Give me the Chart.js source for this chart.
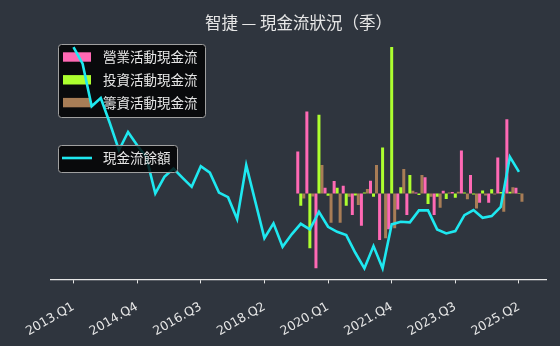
<!DOCTYPE html>
<html>
<head>
<meta charset="utf-8">
<script src="https://cdn.jsdelivr.net/npm/chart.js@4"></script>
<style>
  html, body { margin: 0; padding: 0; background: #2f353e; }
  #wrap { width: 560px; height: 346px; }
</style>
</head>
<body>
<div id="wrap"><canvas id="c" width="560" height="346"></canvas></div>
<script>
( function() { 'use strict';

	// quarters on the x axis (2013.Q1 .. 2025.Q2)
	const quarters = [
		'2013.Q1','2013.Q2','2013.Q3','2013.Q4','2014.Q1','2014.Q2','2014.Q3','2014.Q4',
		'2015.Q1','2015.Q2','2015.Q3','2015.Q4','2016.Q1','2016.Q2','2016.Q3','2016.Q4',
		'2017.Q1','2017.Q2','2017.Q3','2017.Q4','2018.Q1','2018.Q2','2018.Q3','2018.Q4',
		'2019.Q1','2019.Q2','2019.Q3','2019.Q4','2020.Q1','2020.Q2','2020.Q3','2020.Q4',
		'2021.Q1','2021.Q2','2021.Q3','2021.Q4','2022.Q1','2022.Q2','2022.Q3','2022.Q4',
		'2023.Q1','2023.Q2','2023.Q3','2023.Q4','2024.Q1','2024.Q2','2024.Q3','2024.Q4',
		'2025.Q1','2025.Q2'
	];
	const tickLabels = [ '2013.Q1','2014.Q4','2016.Q3','2018.Q2','2020.Q1','2021.Q4','2023.Q3','2025.Q2' ];

	// cash balance, one value per quarter
	const cashBalance = [
		2333, 2167, 1740, 1823, 1570, 1300, 1483, 1350, 1233, 867,
		1033, 1117, 1023, 933, 1140, 1075, 875, 830, 610, 1150,
		785, 420, 567, 333, 458, 563, 507, 683, 533, 483,
		450, 273, 117, 340, 117, 557, 583, 577, 697, 697,
		507, 467, 490, 650, 700, 623, 640, 733, 1233, 1083
	];

	// cash flow bars only exist from 2019.Q2 on
	const flowStart = '2019.Q2';
	const operatingCF = [ 418, 818, -748, 58, 125, 78, -215, -322, 128, -465, -358, -160, -215, 10, 162, -215, 28, 15, 428, 185, -92, -92, 358, 742, 58 ];
	const investingCF = [ -122, -548, 785, -22, 58, -122, -20, 10, -32, 458, 1462, 62, 185, -15, -105, -32, -55, -42, 10, -10, 30, 42, 15, 18, 5 ];
	const financingCF = [ -50, -30, 285, -292, -292, -32, -115, 45, 285, -448, -348, 245, 28, 185, -32, -142, 10, 18, -58, -150, -20, -10, -182, 62, -82 ];

	const seriesNames = [ '營業活動現金流', '投資活動現金流', '籌資活動現金流' ];
	const lineName = '現金流餘額';
	const barColors = [ '#ff69b4', '#adff2f', '#a87d56' ];
	const lineColor = '#1ee8f0';
	const bgColor = '#2f353e';
	const textColor = '#e6e6e6';
	const fontFamily = '"Noto Sans CJK TC", "Noto Sans", sans-serif';
	const tickFont = '"DejaVu Sans", sans-serif';

	const startIdx = quarters.indexOf( flowStart );
	const toPoints = ( arr, offset ) => arr.map( ( v, i ) => ( { x: i + offset, y: v } ) );

	// 5% padding like the original plot
	const padRange = ( vals ) => {
		let lo = Math.min( ...vals ), hi = Math.max( ...vals );
		let p = ( hi - lo ) * 0.05;
		return { min: lo - p, max: hi + p };
	};
	const barRange = padRange( [].concat( operatingCF, investingCF, financingCF ) );
	const lineRange = padRange( cashBalance );
	const xSpan = quarters.length - 1 + 0.5;

	function boxPath( ctx, x, y, w, h, r ) {
		ctx.beginPath();
		ctx.moveTo( x + r, y );
		ctx.arcTo( x + w, y, x + w, y + h, r );
		ctx.arcTo( x + w, y + h, x, y + h, r );
		ctx.arcTo( x, y + h, x, y, r );
		ctx.arcTo( x, y, x + w, y, r );
		ctx.closePath();
	}

	function legendBox( ctx, x, y, w, h ) {
		boxPath( ctx, x, y, w, h, 3 );
		ctx.fillStyle = 'rgba(0,0,0,0.8)';
		ctx.fill();
		ctx.strokeStyle = '#a0a0a0';
		ctx.lineWidth = 1;
		ctx.stroke();
	}

	const overlay = {
		id: 'overlay',
		beforeDraw: function( chart ) {
			let ctx = chart.ctx;
			ctx.save();
			ctx.fillStyle = bgColor;
			ctx.fillRect( 0, 0, chart.width, chart.height );
			ctx.restore();
		},
		beforeDatasetsDraw: function( chart ) {
			let ctx = chart.ctx;
			ctx.save();
			legendBox( ctx, 58.5, 44.5, 147, 73 );
			ctx.font = '13.5px ' + fontFamily;
			ctx.textBaseline = 'middle';
			seriesNames.forEach( function( name, i ) {
				let cy = 57 + i * 22.8;
				ctx.fillStyle = barColors[i];
				ctx.fillRect( 63, cy - 4.7, 28, 9.4 );
				ctx.fillStyle = textColor;
				ctx.fillText( name, 103, cy );
			} );
			ctx.restore();
		},
		afterDatasetsDraw: function( chart ) {
			let ctx = chart.ctx;
			ctx.save();
			legendBox( ctx, 58.5, 145.5, 119, 27 );
			ctx.strokeStyle = lineColor;
			ctx.lineWidth = 2.6;
			ctx.beginPath();
			ctx.moveTo( 62, 158 );
			ctx.lineTo( 92, 158 );
			ctx.stroke();
			ctx.font = '13.5px ' + fontFamily;
			ctx.textBaseline = 'middle';
			ctx.fillStyle = textColor;
			ctx.fillText( lineName, 103, 158 );
			ctx.restore();
		},
		afterDraw: function( chart ) {
			let ctx = chart.ctx;
			let area = chart.chartArea;
			ctx.save();
			ctx.font = '16.5px ' + fontFamily;
			ctx.fillStyle = textColor;
			ctx.textAlign = 'center';
			ctx.textBaseline = 'middle';
			ctx.fillText( '智捷 — 現金流狀況（季）', ( area.left + area.right ) / 2, 23 );
			ctx.restore();
		}
	};

	let datasets = [ {
		type: 'line',
		label: lineName,
		data: toPoints( cashBalance, 0 ),
		yAxisID: 'y2',
		borderColor: lineColor,
		borderWidth: 2.6,
		pointRadius: 0,
		tension: 0,
		order: 0
	} ];
	[ operatingCF, investingCF, financingCF ].forEach( function( arr, i ) {
		datasets.push( {
			type: 'bar',
			label: seriesNames[i],
			data: toPoints( arr, startIdx ),
			yAxisID: 'y',
			backgroundColor: barColors[i],
			borderWidth: 0,
			barPercentage: 1,
			categoryPercentage: 0.99,
			order: 1
		} );
	} );

	new Chart( document.getElementById( 'c' ), {
		data: { datasets: datasets },
		options: {
			responsive: false,
			animation: false,
			devicePixelRatio: 1,
			layout: { padding: { left: 51, right: 14, top: 36, bottom: 0 } },
			plugins: {
				legend: { display: false },
				title: { display: false },
				tooltip: { enabled: false }
			},
			scales: {
				x: {
					type: 'linear',
					offset: false,
					min: -xSpan * 0.05,
					max: xSpan * 1.05,
					afterBuildTicks: function( scale ) {
						scale.ticks = tickLabels.map( t => ( { value: quarters.indexOf( t ) } ) );
					},
					afterFit: function( scale ) {
						scale.height = 66.6;
					},
					ticks: {
						autoSkip: false,
						minRotation: 30,
						maxRotation: 30,
						padding: 16,
						color: textColor,
						font: { family: tickFont, size: 12.5 },
						callback: v => quarters[v]
					},
					grid: {
						display: true,
						offset: false,
						drawOnChartArea: false,
						drawTicks: true,
						tickLength: 4,
						color: '#e6e6e6'
					},
					border: { display: true, color: '#e6e6e6', width: 1.2 }
				},
				y: {
					display: false,
					min: barRange.min,
					max: barRange.max
				},
				y2: {
					display: false,
					min: lineRange.min,
					max: lineRange.max
				}
			}
		},
		plugins: [ overlay ]
	} );

})();
</script>
</body>
</html>
